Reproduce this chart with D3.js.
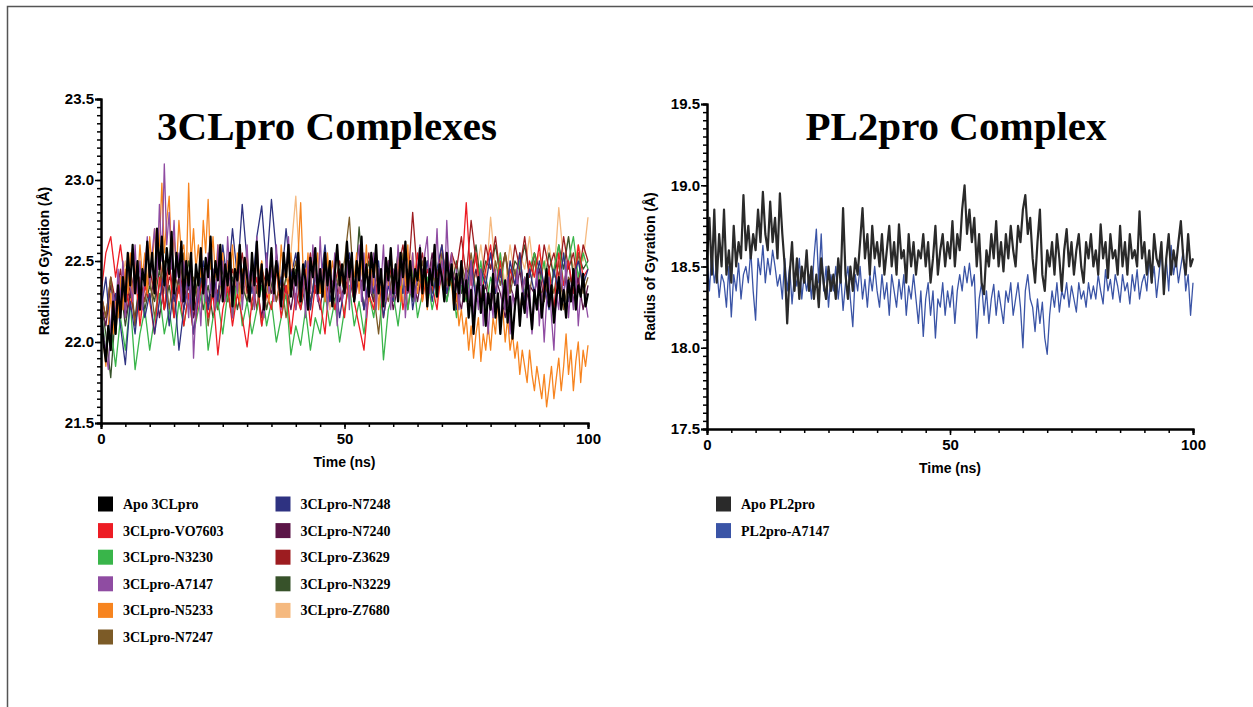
<!DOCTYPE html>
<html lang="en"><head><meta charset="utf-8">
<script src="https://cdn.jsdelivr.net/npm/d3@7"></script>
<style>body{margin:0;background:#fff;}</style>
</head>
<body>
<script>
var width = 1253;
var height = 707;

// ---- 3CLpro complexes, Rg (Å); series run from 0 to 100 ns at even steps ----
// every 0.5 ns
var apo3CL = [22.20,22.00,21.88,22.10,21.95,22.25,22.05,22.35,22.15,22.40,
  22.25,22.55,22.35,22.60,22.30,22.50,22.20,22.45,22.35,22.62,
  22.40,22.55,22.30,22.70,22.45,22.65,22.35,22.58,22.42,22.68,
  22.30,22.55,22.40,22.62,22.25,22.50,22.35,22.55,22.20,22.48,
  22.35,22.58,22.30,22.52,22.40,22.65,22.28,22.50,22.38,22.60,
  22.25,22.48,22.35,22.55,22.22,22.45,22.38,22.60,22.30,22.52,
  22.40,22.25,22.55,22.35,22.62,22.28,22.48,22.20,22.45,22.35,
  22.58,22.30,22.50,22.38,22.22,22.55,22.40,22.60,22.28,22.45,
  22.35,22.55,22.25,22.48,22.38,22.20,22.52,22.40,22.58,22.30,
  22.45,22.28,22.55,22.35,22.50,22.22,22.42,22.60,22.35,22.48,
  22.30,22.62,22.40,22.55,22.25,22.50,22.38,22.65,22.32,22.48,
  22.28,22.55,22.40,22.60,22.30,22.45,22.22,22.52,22.38,22.58,
  22.30,22.48,22.25,22.55,22.40,22.62,22.32,22.50,22.28,22.45,
  22.38,22.58,22.30,22.52,22.22,22.45,22.35,22.60,22.28,22.48,
  22.40,22.25,22.55,22.35,22.48,22.20,22.42,22.30,22.50,22.25,
  22.38,22.15,22.32,22.05,22.28,22.40,22.18,22.35,22.10,22.30,
  22.20,22.42,22.15,22.30,22.05,22.25,22.38,22.12,22.28,22.02,
  22.22,22.35,22.10,22.30,22.18,22.42,22.25,22.08,22.32,22.20,
  22.38,22.15,22.30,22.45,22.22,22.35,22.12,22.28,22.40,22.20,
  22.32,22.15,22.38,22.25,22.45,22.20,22.35,22.28,22.42,22.22,
  22.30];
// every 1 ns
var vo7603 = [22.30,22.55,22.65,22.40,22.60,22.35,22.20,22.45,22.10,22.35,
  22.25,22.05,22.40,22.20,22.50,22.15,22.35,22.10,22.30,22.05,
  22.25,22.40,22.15,22.30,21.92,22.20,22.35,22.10,22.30,22.15,
  21.97,22.25,22.40,22.10,22.30,22.20,22.45,22.15,22.35,22.05,
  22.30,22.20,22.45,22.10,22.35,22.25,22.05,22.40,22.20,22.35,
  22.15,22.45,22.25,22.10,21.95,22.30,22.20,22.40,22.15,22.35,
  22.25,22.50,22.20,22.40,22.30,22.55,22.25,22.45,22.35,22.20,
  22.50,22.30,22.45,22.25,22.40,22.86,22.35,22.55,22.25,22.45,
  22.60,22.30,22.50,22.20,22.45,22.35,22.55,22.25,22.50,22.40,
  22.60,22.30,22.45,22.20,22.55,22.35,22.50,22.30,22.60,22.40,22.45];
var n3230 = [22.20,21.95,22.10,21.85,22.15,21.95,22.25,21.83,22.05,22.20,
  21.95,22.15,22.30,22.05,22.20,21.98,22.25,22.10,22.30,22.05,
  22.20,22.35,21.95,22.15,22.25,22.05,22.30,22.15,22.40,22.10,
  22.25,22.05,22.20,22.35,22.10,22.25,22.00,22.15,22.30,21.92,
  22.10,21.98,22.20,21.95,22.15,22.05,22.30,22.10,22.25,22.00,
  22.20,22.35,22.10,22.25,22.05,22.30,22.15,22.40,21.89,22.20,
  22.30,22.10,22.35,22.20,22.45,22.15,22.30,22.40,22.20,22.35,
  22.45,22.25,22.40,22.15,22.35,22.25,22.45,22.30,22.50,22.20,
  22.40,22.30,22.55,22.25,22.45,22.35,22.50,22.30,22.45,22.55,
  22.35,22.50,22.25,22.45,22.60,22.35,22.50,22.65,22.40,22.55,22.45];
// every 0.5 ns
var a7147 = [22.25,22.05,21.95,21.83,22.10,22.30,22.15,22.45,22.25,22.50,
  22.15,22.55,22.35,22.25,22.60,22.30,22.50,22.20,22.45,22.65,
  22.35,22.55,22.70,22.40,22.85,22.50,23.10,22.60,22.80,22.45,
  22.75,22.40,22.55,22.25,22.50,22.35,22.15,22.45,21.90,22.20,
  22.35,22.10,22.45,22.25,22.55,22.30,22.45,22.20,22.60,22.35,
  22.50,22.25,22.65,22.40,22.15,22.45,22.30,22.55,22.20,22.40,
  22.60,22.30,22.50,22.20,22.65,22.35,22.45,22.15,22.55,22.30,
  22.45,22.25,22.60,22.35,22.20,22.50,22.40,22.65,22.30,22.45,
  22.20,22.55,22.35,22.45,22.15,22.50,22.30,22.60,22.40,22.25,
  22.65,22.35,22.50,22.20,22.45,22.30,22.55,22.10,22.40,22.25,
  22.35,22.55,22.20,22.50,22.30,22.45,22.60,22.25,22.55,22.15,
  22.40,22.30,22.55,22.20,22.45,22.35,22.60,22.25,22.50,22.20,
  22.45,22.30,22.60,22.35,22.50,22.15,22.40,22.30,22.55,22.25,
  22.45,22.60,22.35,22.55,22.65,22.30,22.50,22.40,22.70,22.35,
  22.50,22.30,22.75,22.40,22.55,22.25,22.45,22.20,22.40,22.30,
  22.45,22.25,22.50,22.15,22.35,22.20,22.45,22.10,22.30,22.05,
  22.30,22.15,22.45,22.25,22.10,22.35,22.20,22.40,22.05,22.30,
  22.20,22.45,22.10,22.30,22.40,22.15,22.35,22.05,22.25,22.45,
  22.10,22.30,22.00,22.25,22.40,22.15,21.95,22.30,22.20,22.45,
  22.25,22.50,22.15,22.35,22.20,22.45,22.10,22.30,22.40,22.25,
  22.15];
// every 0.5 ns
var n5233 = [22.20,22.00,21.85,22.10,22.30,22.05,22.25,22.15,22.40,22.20,
  22.45,22.30,22.55,22.25,22.50,22.35,22.60,22.40,22.55,22.30,
  22.65,22.45,22.70,22.50,22.60,22.98,22.55,22.75,22.90,22.50,
  22.65,22.45,22.75,22.55,22.60,22.40,22.98,22.50,22.70,22.45,
  22.60,22.40,22.75,22.55,22.88,22.45,22.65,22.40,22.60,22.35,
  22.55,22.30,22.50,22.40,22.60,22.35,22.55,22.25,22.45,22.35,
  22.55,22.30,22.45,22.25,22.60,22.40,22.50,22.30,22.45,22.25,
  22.55,22.35,22.50,22.30,22.60,22.40,22.45,22.30,22.55,22.40,
  22.35,22.55,22.86,22.45,22.35,22.55,22.30,22.50,22.40,22.55,
  22.30,22.45,22.25,22.55,22.35,22.50,22.40,22.60,22.30,22.45,
  22.35,22.55,22.25,22.45,22.40,22.55,22.30,22.50,22.35,22.60,
  22.25,22.45,22.35,22.55,22.20,22.40,22.30,22.50,22.35,22.55,
  22.40,22.30,22.55,22.25,22.45,22.35,22.60,22.30,22.50,22.40,
  22.30,22.45,22.25,22.40,22.20,22.45,22.35,22.55,22.30,22.40,
  22.45,22.30,22.55,22.40,22.35,22.20,22.30,22.10,22.20,22.05,
  22.15,21.95,22.10,21.90,22.05,22.15,21.88,22.05,21.95,22.10,
  21.95,22.15,22.05,22.25,22.10,22.20,22.00,22.15,21.95,22.05,
  21.90,22.00,21.80,21.95,21.85,21.75,21.95,21.80,21.70,21.85,
  21.75,21.65,21.80,21.60,21.72,21.85,21.65,21.78,21.90,21.70,
  21.85,22.05,21.80,21.95,21.70,21.88,22.00,21.75,21.95,21.85,
  21.98];
// every 1 ns
var n7247 = [22.30,22.15,22.40,22.05,22.35,22.20,22.45,22.10,22.30,22.25,
  22.40,22.15,22.35,22.50,22.20,22.45,22.30,22.55,22.20,22.40,
  22.25,22.45,22.10,22.35,22.20,22.50,22.30,22.15,22.40,22.25,
  22.45,22.20,22.35,22.10,22.30,22.45,22.25,22.40,22.15,22.35,
  22.50,22.25,22.40,22.20,22.45,22.30,22.55,22.25,22.40,22.35,
  22.50,22.77,22.30,22.45,22.20,22.40,22.30,22.05,22.35,22.25,
  22.45,22.30,22.55,22.20,22.40,22.35,22.50,22.25,22.45,22.30,
  22.55,22.35,22.45,22.25,22.50,22.35,22.55,22.30,22.45,22.40,
  22.25,22.50,22.35,22.55,22.30,22.45,22.20,22.40,22.30,22.50,
  22.35,22.25,22.45,22.30,22.50,22.20,22.40,22.35,22.55,22.30,22.40];
var n7248 = [22.20,22.40,22.05,22.30,22.10,21.86,22.25,22.05,22.35,22.15,
  22.30,22.05,22.25,22.45,22.10,22.35,21.95,22.20,22.40,22.05,
  22.30,22.50,22.20,22.45,22.25,22.60,22.35,22.70,22.40,22.85,
  22.50,22.30,22.65,22.84,22.45,22.88,22.55,22.35,22.70,22.40,
  22.55,22.30,22.50,22.20,22.45,22.35,22.60,22.25,22.40,22.15,
  22.35,22.55,22.25,22.45,22.20,22.40,22.30,22.50,22.15,22.35,
  22.25,22.45,22.30,22.55,22.20,22.40,22.35,22.50,22.25,22.45,
  22.60,22.30,22.45,22.20,22.40,22.30,22.50,22.25,22.45,22.35,
  22.55,22.30,22.45,22.20,22.50,22.35,22.55,22.25,22.45,22.30,
  22.50,22.35,22.20,22.45,22.30,22.55,22.25,22.40,22.50,22.35,22.45];
var n7240 = [22.25,22.10,22.35,22.20,22.40,22.15,22.30,22.45,22.20,22.35,
  22.25,22.40,22.15,22.35,22.50,22.25,22.40,22.20,22.35,22.15,
  22.30,22.45,22.25,22.40,22.20,22.35,22.50,22.25,22.40,22.30,
  22.45,22.20,22.35,22.15,22.40,22.30,22.45,22.25,22.35,22.20,
  22.40,22.30,22.50,22.25,22.35,22.20,22.45,22.30,22.40,22.25,
  22.35,22.50,22.30,22.45,22.20,22.35,22.25,22.40,22.30,22.45,
  22.20,22.35,22.50,22.30,22.40,22.25,22.45,22.35,22.55,22.30,
  22.40,22.25,22.45,22.35,22.20,22.40,22.30,22.45,22.25,22.35,
  22.20,22.40,22.30,22.15,22.35,22.25,22.45,22.20,22.35,22.30,
  22.45,22.25,22.40,22.15,22.35,22.30,22.50,22.25,22.40,22.20,22.35];
var z3629 = [22.30,22.15,22.40,22.25,22.45,22.20,22.35,22.10,22.40,22.25,
  22.45,22.30,22.55,22.20,22.40,22.35,22.50,22.25,22.40,22.15,
  22.35,22.45,22.20,22.40,22.30,22.50,22.25,22.45,22.35,22.55,
  22.30,22.40,22.20,22.45,22.35,22.50,22.25,22.40,22.30,22.45,
  22.20,22.40,22.35,22.55,22.30,22.45,22.25,22.40,22.35,22.50,
  22.30,22.45,22.25,22.40,22.35,22.55,22.30,22.45,22.25,22.50,
  22.35,22.45,22.60,22.35,22.80,22.40,22.55,22.30,22.50,22.40,
  22.60,22.35,22.55,22.45,22.65,22.40,22.75,22.50,22.35,22.60,
  22.45,22.65,22.40,22.55,22.35,22.60,22.45,22.65,22.40,22.55,
  22.35,22.60,22.45,22.55,22.40,22.65,22.45,22.55,22.35,22.60,22.50];
var n3229 = [22.25,22.05,21.78,22.20,22.35,22.10,22.30,22.15,22.40,22.20,
  22.35,22.25,22.45,22.20,22.35,22.15,22.40,22.30,22.50,22.25,
  22.40,22.20,22.35,22.15,22.30,22.45,22.25,22.40,22.20,22.35,
  22.25,22.45,22.30,22.40,22.20,22.35,22.50,22.25,22.40,22.30,
  22.45,22.20,22.35,22.25,22.40,22.30,22.50,22.35,22.25,22.45,
  22.30,22.40,22.25,22.71,22.35,22.50,22.25,22.40,22.30,22.45,
  22.35,22.55,22.30,22.45,22.25,22.40,22.35,22.50,22.30,22.45,
  22.40,22.55,22.35,22.50,22.30,22.45,22.40,22.60,22.35,22.50,
  22.45,22.60,22.40,22.55,22.35,22.50,22.45,22.60,22.40,22.55,
  22.45,22.35,22.55,22.40,22.60,22.45,22.65,22.40,22.55,22.45,22.50];
var z7680 = [22.30,22.15,22.40,22.20,22.35,22.50,22.25,22.40,22.15,22.35,
  22.45,22.25,22.55,22.30,22.45,22.20,22.40,22.35,22.55,22.25,
  22.40,22.20,22.45,22.30,22.50,22.25,22.40,22.15,22.35,22.45,
  22.25,22.40,22.30,22.50,22.20,22.35,22.45,22.25,22.40,22.55,
  22.90,22.35,22.45,22.25,22.40,22.30,22.50,22.20,22.35,22.45,
  22.30,22.40,22.25,22.50,22.35,22.45,22.20,22.40,22.30,22.50,
  22.35,22.45,22.25,22.40,22.55,22.30,22.45,22.35,22.50,22.25,
  22.40,22.30,22.55,22.35,22.45,22.25,22.50,22.40,22.60,22.35,
  22.77,22.45,22.55,22.35,22.60,22.40,22.55,22.45,22.65,22.40,
  22.55,22.45,22.60,22.40,22.83,22.50,22.65,22.45,22.60,22.50,22.77];

var names3CL = ["Apo 3CLpro", "3CLpro-VO7603", "3CLpro-N3230", "3CLpro-A7147", "3CLpro-N5233",
  "3CLpro-N7247", "3CLpro-N7248", "3CLpro-N7240", "3CLpro-Z3629", "3CLpro-N3229", "3CLpro-Z7680"];
var series3CL = [apo3CL, vo7603, n3230, a7147, n5233, n7247, n7248, n7240, z3629, n3229, z7680];
var colors3CL = ["#000000", "#ed1c24", "#39b54a", "#8f4ca2", "#f7841f", "#7c5b27",
  "#2e3281", "#5b1547", "#9d1c20", "#37522a", "#f5b97f"];
// stacking, bottom first (indexes into the lists above)
var order3CL = [10, 9, 8, 7, 5, 2, 1, 6, 4, 3, 0];

// ---- PL2pro, Rg (Å) at every 0.5 ns from 0 to 100 ----
var apoPL2 = [18.55,18.80,18.45,18.85,18.40,18.70,18.50,
  18.85,18.45,18.60,18.40,18.75,18.50,18.65,
  18.55,18.94,18.60,18.75,18.55,18.70,
  18.60,18.85,18.65,18.96,18.70,18.60,18.90,18.65,18.80,18.55,18.95,18.70,
  18.50,18.15,18.45,18.65,18.35,18.55,18.30,18.50,18.40,18.60,
  18.35,18.50,18.30,18.45,18.25,18.55,18.40,18.30,18.50,18.35,18.45,18.30,18.55,18.40,18.86,18.45,18.30,18.50,18.35,18.55,
  18.45,18.65,18.86,18.55,18.70,18.45,18.75,18.55,18.65,18.50,18.70,18.45,18.60,18.75,
  18.50,18.65,18.45,18.76,18.55,18.60,18.40,18.70,18.50,18.65,18.45,18.60,18.55,18.70,
  18.50,18.65,18.40,18.55,18.75,18.45,18.60,18.70,18.50,18.65,
  18.55,18.78,18.50,18.70,18.60,18.85,
  19.00,18.70,18.85,18.65,18.80,
  18.50,18.70,18.40,18.33,18.60,
  18.50,18.70,18.55,18.78,18.50,18.65,18.47,18.70,18.55,18.75,18.60,18.50,
  18.75,18.65,18.85,18.94,18.70,18.80,
  18.55,18.40,18.65,18.85,18.45,18.35,18.60,18.50,
  18.65,18.45,18.70,18.55,18.35,18.60,18.73,18.50,18.65,18.45,18.60,18.70,18.50,18.40,18.65,18.55,
  18.70,18.50,18.60,18.45,18.76,18.55,18.65,18.43,18.70,18.55,18.60,18.45,18.75,18.50,18.65,18.45,18.70,18.55,18.60,18.50,
  18.84,18.55,18.65,18.45,18.60,18.40,18.70,18.55,18.50,18.65,18.33,18.55,18.70,18.45,18.60,18.50,18.65,18.78,18.55,18.45,18.70,18.50,18.55];
var pl2A7147 = [18.55,18.35,18.60,18.40,18.50,18.31,18.45,
  18.40,18.25,18.50,18.19,18.45,18.35,18.52,18.30,18.45,
  18.50,18.40,18.60,18.35,18.17,18.55,18.45,18.63,18.40,18.55,18.45,18.60,18.50,18.38,
  18.45,18.30,18.55,18.35,18.50,18.27,18.45,18.38,18.55,18.30,18.45,18.35,
  18.45,18.30,18.55,18.73,18.40,18.70,18.35,18.50,18.25,18.45,18.35,18.50,18.30,18.45,
  18.23,18.40,18.50,18.30,18.13,18.45,18.35,18.50,18.30,18.42,18.25,18.45,18.35,18.50,
  18.35,18.25,18.45,18.30,18.40,18.20,18.45,18.35,18.25,18.42,18.30,18.45,18.20,18.38,18.30,18.45,
  18.30,18.15,18.35,18.07,18.30,18.40,18.20,18.35,18.06,18.30,18.25,18.40,18.20,18.35,
  18.25,18.38,18.15,18.35,
  18.45,18.35,18.50,18.40,18.52,18.38,18.45,
  18.06,18.30,18.40,18.20,18.35,18.15,18.30,18.39,18.20,18.35,18.25,18.15,18.35,18.28,18.40,18.20,18.30,
  18.40,18.25,18.00,18.35,18.45,18.30,
  18.25,18.10,18.30,18.15,18.28,18.06,17.96,18.20,
  18.35,18.25,18.40,18.22,18.35,18.30,18.40,18.25,18.38,18.30,18.22,18.40,18.30,18.35,18.25,18.40,18.30,18.38,
  18.30,18.45,18.35,18.27,18.48,18.35,18.42,18.30,18.45,18.38,18.28,18.45,18.35,18.40,18.27,18.45,18.35,18.48,18.30,18.40,
  18.45,18.35,18.55,18.40,18.50,18.31,18.45,18.60,18.40,18.55,18.35,18.63,18.45,18.55,18.40,18.50,18.60,18.35,18.45,18.20,18.40];

var namesPL2 = ["Apo PL2pro", "PL2pro-A7147"];
var seriesPL2 = [apoPL2, pl2A7147];
var colorsPL2 = ["#2a2a2a", "#3a54a6"];
var orderPL2 = [1, 0];

var xTicks = [0, 50, 100];
var yTicks3CL = [21.5, 22.0, 22.5, 23.0, 23.5];
var yTicksPL2 = [17.5, 18.0, 18.5, 19.0, 19.5];

var svg = d3.select("body").append("svg")
  .attr("width", width)
  .attr("height", height);

// page frame (top and left edge)
svg.append("path")
  .attr("d", "M7.5,707V6.5H1253")
  .attr("fill", "none")
  .attr("stroke", "#555")
  .attr("stroke-width", 1.5);

var sansBold = "'Liberation Sans', Arial, sans-serif";
var serifBold = "'Liberation Serif', 'Times New Roman', serif";

function drawPanel(p) {
  var x = d3.scaleLinear().domain([0, 100]).range([p.left, p.right]);
  var y = d3.scaleLinear().domain([p.yTicks[0], p.yTicks[p.yTicks.length - 1]]).range([p.bottom, p.top]);

  // lines, apo drawn last (on top)
  p.order.forEach(function(k) {
    var step = 100 / (p.series[k].length - 1);
    var line = d3.line()
      .x(function(d, i) { return x(i * step); })
      .y(function(d) { return y(d); });
    svg.append("path")
      .datum(p.series[k])
      .attr("d", line)
      .attr("fill", "none")
      .attr("stroke", p.colors[k])
      .attr("stroke-width", k == 0 ? 2.2 : 1.3)
      .attr("stroke-linejoin", "round");
  });

  // minor ticks
  var y0 = p.yTicks[0], y1 = p.yTicks[p.yTicks.length - 1];
  svg.append("g")
    .attr("transform", "translate(0," + p.bottom + ")")
    .call(d3.axisBottom(x).tickValues(d3.range(0, 101, 5)).tickSize(4).tickFormat(""))
    .call(styleAxis);
  svg.append("g")
    .attr("transform", "translate(" + p.left + ",0)")
    .call(d3.axisLeft(y).tickValues(d3.range(0, 41).map(function(i) { return y0 + i * (y1 - y0) / 40; })).tickSize(4).tickFormat(""))
    .call(styleAxis);

  // major ticks + labels
  svg.append("g")
    .attr("transform", "translate(0," + p.bottom + ")")
    .call(d3.axisBottom(x).tickValues(xTicks).tickSize(6).tickPadding(4).tickFormat(d3.format("d")))
    .call(styleAxis);
  svg.append("g")
    .attr("transform", "translate(" + p.left + ",0)")
    .call(d3.axisLeft(y).tickValues(p.yTicks).tickSize(6).tickPadding(1).tickFormat(d3.format(".1f")))
    .call(styleAxis);

  svg.append("text")
    .attr("x", (p.left + p.right) / 2).attr("y", p.bottom + 44)
    .attr("text-anchor", "middle")
    .style("font", "bold 14px " + sansBold)
    .text("Time (ns)");
  svg.append("text")
    .attr("transform", "translate(" + (p.left - 52) + "," + ((p.top + p.bottom) / 2) + ") rotate(-90)")
    .attr("text-anchor", "middle")
    .style("font", "bold 14px " + sansBold)
    .text("Radius of Gyration (Å)");

  svg.append("text")
    .attr("x", p.titleX).attr("y", 140)
    .attr("text-anchor", "middle")
    .style("font", "bold 41px " + serifBold)
    .text(p.title);

  // legend
  p.names.forEach(function(name, i) {
    var col = i < p.perCol ? 0 : 1;
    var row = i < p.perCol ? i : i - p.perCol;
    var lx = p.legendX + col * 177.5;
    var ly = 504 + row * 26.6;
    svg.append("rect")
      .attr("x", lx).attr("y", ly - 7.5)
      .attr("width", 15).attr("height", 15)
      .attr("fill", p.colors[i]);
    svg.append("text")
      .attr("x", lx + 25).attr("y", ly + 5)
      .style("font", "bold 14px " + serifBold)
      .text(name);
  });
}

function styleAxis(g) {
  g.select(".domain").attr("stroke", "#000").attr("stroke-width", 2);
  g.selectAll(".tick line").attr("stroke", "#000").attr("stroke-width", 1.5);
  g.selectAll(".tick text")
    .attr("fill", "#000")
    .style("font", "bold 15px " + sansBold);
}

drawPanel({
  left: 101, right: 588, top: 99, bottom: 423,
  yTicks: yTicks3CL, series: series3CL, colors: colors3CL, names: names3CL, order: order3CL,
  title: "3CLpro Complexes", titleX: 327, legendX: 98, perCol: 6
});

drawPanel({
  left: 707, right: 1193, top: 104, bottom: 429,
  yTicks: yTicksPL2, series: seriesPL2, colors: colorsPL2, names: namesPL2, order: orderPL2,
  title: "PL2pro Complex", titleX: 956, legendX: 716, perCol: 2
});
</script>
</body></html>
